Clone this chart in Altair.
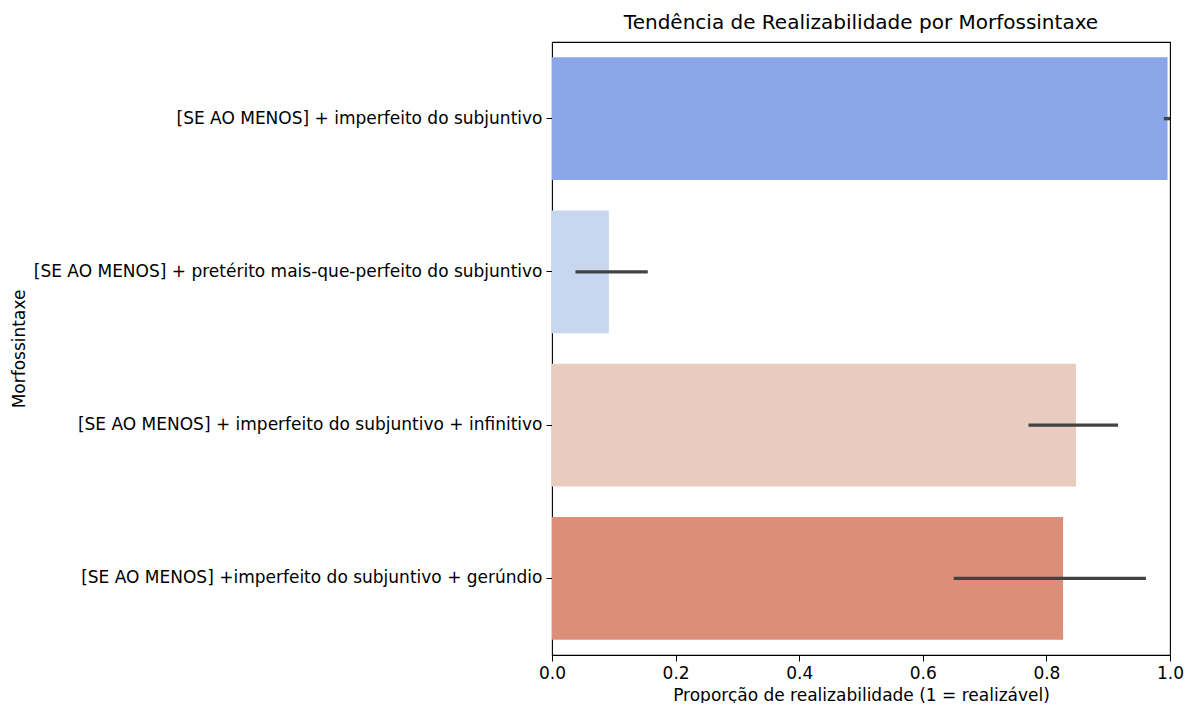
import altair as alt
import pandas as pd

categories = [
    "[SE AO MENOS] + imperfeito do subjuntivo",
    "[SE AO MENOS] + pretérito mais-que-perfeito do subjuntivo",
    "[SE AO MENOS] + imperfeito do subjuntivo + infinitivo",
    "[SE AO MENOS] +imperfeito do subjuntivo + gerúndio ",
]
means = [0.996, 0.092, 0.848, 0.827]
ci_low = [0.990, 0.038, 0.771, 0.650]
ci_high = [1.0, 0.155, 0.916, 0.961]
colors = ["#8aa6e8", "#c8d6f0", "#e9ccbf", "#dc8e79"]
x_ticks = [0.0, 0.2, 0.4, 0.6, 0.8, 1.0]

df = pd.DataFrame({"cat": categories, "mean": means, "lo": ci_low, "hi": ci_high})

FONT = "DejaVu Sans"

y_enc = alt.Y(
    "cat:N",
    sort=categories,
    title="Morfossintaxe",
    scale=alt.Scale(paddingInner=0.2, paddingOuter=0.1),
    axis=alt.Axis(
        labelLimit=700,
        titleX=-533,
        titleAngle=270,
        titleAlign="center",
        titleBaseline="middle",
    ),
)
x_scale = alt.Scale(domain=[0, 1], nice=False, zero=True)

bars = alt.Chart(df).mark_bar(opacity=1).encode(
    y=y_enc,
    x=alt.X(
        "mean:Q",
        scale=x_scale,
        title="Proporção de realizabilidade (1 = realizável)",
        axis=alt.Axis(values=x_ticks, format=".1f", titlePadding=6, labelFlush=False),
    ),
    color=alt.Color("cat:N", scale=alt.Scale(domain=categories, range=colors), legend=None),
)

errs = alt.Chart(df).mark_rule(color="#424242", strokeWidth=3.4).encode(
    y=alt.Y("cat:N", sort=categories),
    x=alt.X("lo:Q", scale=x_scale),
    x2="hi:Q",
)

chart = (
    alt.layer(bars, errs)
    .properties(
        width=1176,
        height=695,
        padding={"left": 2, "right": 0, "top": 5, "bottom": 0},
        autosize=alt.AutoSizeParams(type="fit", contains="padding"),
        title=alt.TitleParams(
            "Tendência de Realizabilidade por Morfossintaxe",
            fontSize=20,
            fontWeight="normal",
            font=FONT,
            color="black",
            offset=9,
        ),
    )
    .configure_view(stroke="black", strokeWidth=1.1)
    .configure_axis(
        domain=False,
        grid=False,
        ticks=True,
        tickSize=6,
        tickColor="black",
        labelColor="black",
        titleColor="black",
        labelFont=FONT,
        titleFont=FONT,
        labelFontSize=17,
        titleFontSize=17,
        titleFontWeight="normal",
        labelPadding=4,
    )
)

chart.save("out.html", embed_options={"renderer": "svg", "actions": False})
